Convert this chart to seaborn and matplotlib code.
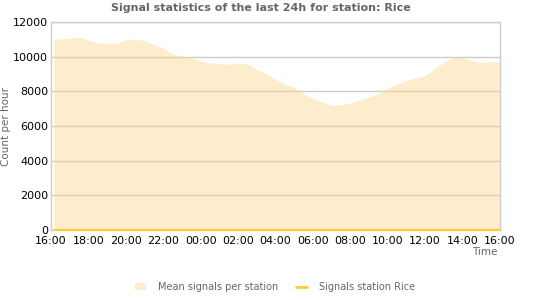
import numpy as np
import pandas as pd
import seaborn as sns
import matplotlib.pyplot as plt
from matplotlib.ticker import MultipleLocator, FixedLocator
from matplotlib.patches import Patch
from matplotlib.lines import Line2D

sns.set_style("white")
plt.rcParams['font.family'] = ['DejaVu Sans']

# hours since 16:00 (yesterday) and mean signals per station
hours = [0.15, 0.5, 1.0, 1.5, 2.0, 2.5, 3.0, 3.5, 4.0, 4.5, 5.0, 5.5, 6.0, 6.5,
         7.0, 7.5, 8.0, 8.5, 9.0, 9.5, 10.0, 10.5, 11.0, 11.5, 12.0, 12.5,
         13.0, 13.5, 14.0, 14.5, 15.0, 15.5, 16.0, 16.5, 17.0, 17.5, 18.0,
         18.5, 19.0, 19.5, 20.0, 20.5, 21.0, 21.5, 22.0, 22.5, 23.0, 23.5, 24.0]
mean_signals = [11000, 11020, 11050, 11150, 10950, 10830, 10760, 10760, 10970,
                11020, 10920, 10700, 10500, 10130, 10050, 9940, 9750, 9650,
                9600, 9560, 9640, 9580, 9250, 9030, 8700, 8400, 8220, 7850,
                7610, 7390, 7210, 7230, 7330, 7500, 7670, 7880, 8200, 8420,
                8620, 8790, 8900, 9300, 9720, 9940, 9980, 9780, 9650, 9700, 9710]
rice_signals = [0] * len(hours)

tick_labels = ["16:00", "18:00", "20:00", "22:00", "00:00", "02:00", "04:00",
               "06:00", "08:00", "10:00", "12:00", "14:00", "16:00"]

df = pd.DataFrame({"hour": hours, "mean": mean_signals, "rice": rice_signals})

fill_col = "#FBD88F"
line_col = "#FFCC33"
text_col = "#666666"

fig = plt.figure(figsize=(5.5, 3.0), dpi=100)
ax = fig.add_axes([51 / 550, 1 - 230 / 300, 449 / 550, 208 / 300])

ax.fill_between(df["hour"], df["mean"], 0, color=fill_col, alpha=0.45,
                linewidth=0, zorder=2)
sns.lineplot(data=df, x="hour", y="rice", color=line_col, linewidth=1.5,
             ax=ax, zorder=4, clip_on=False)

ax.set_xlim(0, 24)
ax.set_ylim(0, 12000)

ax.xaxis.set_major_locator(FixedLocator(np.arange(0, 25, 2)))
ax.xaxis.set_minor_locator(MultipleLocator(1 / 3))
ax.set_xticklabels(tick_labels)
ax.yaxis.set_major_locator(MultipleLocator(2000))
ax.yaxis.set_minor_locator(MultipleLocator(1000))

ax.tick_params(axis="both", which="both", direction="in", colors="black",
               labelsize=8, width=1)
ax.tick_params(axis="x", which="major", length=5, pad=4)
ax.tick_params(axis="x", which="minor", length=3)
ax.tick_params(axis="y", which="both", length=3, pad=2)

ax.grid(axis="y", which="major", color="#cccccc", linewidth=1, zorder=1)
ax.set_axisbelow(True)
for s in ax.spines.values():
    s.set_color("#cccccc")
    s.set_linewidth(1)

ax.set_xlabel("Time", color=text_col, fontsize=7.5)
ax.xaxis.set_label_coords(0.965, -0.08)
ax.set_ylabel("Count per hour", color=text_col, fontsize=7.5)
ax.yaxis.set_label_coords(-0.088, 0.5)

fig.suptitle("Signal statistics of the last 24h for station: Rice",
             fontsize=8, fontweight="bold", color=text_col, x=0.474, y=0.99)

handles = [Patch(facecolor=fill_col, alpha=0.45, edgecolor="none"),
           Line2D([0], [0], color=line_col, linewidth=2)]
fig.legend(handles, ["Mean signals per station", "Signals station Rice"],
           loc="center", bbox_to_anchor=(0.5, 0.043), ncol=2, frameon=False,
           fontsize=7, labelcolor=text_col, handlelength=1.2,
           columnspacing=1.8, handletextpad=1.2)

fig.savefig("out.png", dpi=100)
